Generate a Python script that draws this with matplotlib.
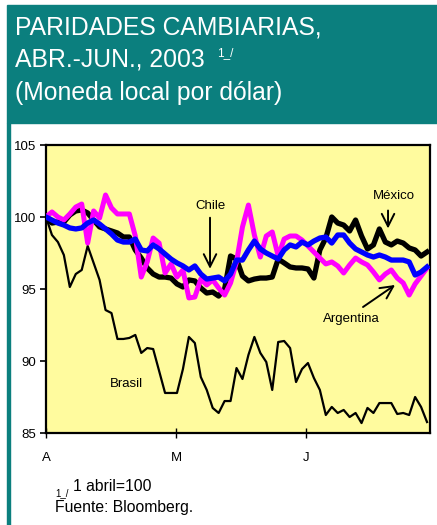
import matplotlib
matplotlib.use("Agg")
import matplotlib.pyplot as plt
from matplotlib.patches import Rectangle

plt.rcParams['font.family'] = ['Liberation Sans', 'DejaVu Sans']

# ---- data (index 1 abril = 100), trading days Apr-Jun 2003 ----
brasil = [100, 98.75, 98.26, 97.36, 95.14, 96.04, 96.32, 97.99, 96.81, 95.63,
          93.54, 93.33, 91.53, 91.53, 91.60, 91.81, 90.56, 90.90, 90.83, 89.31,
          87.78, 87.78, 87.78, 89.44, 91.67, 91.25, 88.89, 87.99, 86.74, 86.39,
          87.22, 87.22, 89.51, 88.75, 90.42, 91.67, 90.56, 89.93, 87.99, 91.32,
          91.39, 90.90, 88.54, 89.44, 89.86, 88.82, 87.99, 86.25, 86.81, 86.39,
          86.60, 86.11, 86.39, 85.69, 86.74, 86.39, 87.08, 87.08, 87.08, 86.32,
          86.39, 86.25, 87.50, 86.81, 85.76]
mexico = [100, 99.58, 99.65, 99.65, 100.14, 100.42, 100.49, 100.28, 99.79, 99.31,
          99.17, 99.03, 98.89, 98.61, 98.61, 97.71, 97.15, 96.46, 96.04, 95.83,
          95.83, 95.76, 95.35, 95.14, 95.63, 95.56, 95.07, 94.72, 94.79, 94.51,
          95.00, 97.29, 97.08, 95.90, 95.56, 95.69, 95.76, 95.76, 95.83, 97.08,
          96.81, 96.53, 96.46, 96.46, 96.39, 95.76, 97.71, 98.54, 100.0, 99.58,
          99.44, 99.03, 99.79, 98.68, 97.78, 98.06, 99.17, 98.26, 98.06, 98.33,
          98.19, 97.85, 97.71, 97.29, 97.57]
argentina = [100, 100.35, 100.0, 99.79, 100.21, 100.69, 100.90, 98.19, 100.42, 99.93,
             101.53, 100.63, 100.21, 100.21, 100.21, 98.68, 95.83, 96.88, 98.54, 98.19,
             96.11, 96.74, 95.83, 96.32, 94.38, 94.44, 95.69, 95.28, 95.63, 95.07,
             94.58, 95.42, 96.88, 99.31, 100.83, 98.75, 97.22, 98.68, 98.96, 97.29,
             98.47, 98.68, 98.68, 98.40, 97.99, 97.57, 97.15, 96.74, 96.88, 96.60,
             96.11, 96.67, 97.15, 96.88, 96.67, 96.18, 95.63, 96.04, 96.32, 95.76,
             95.42, 94.58, 95.35, 95.90, 96.46]
chile = [100, 99.79, 99.58, 99.44, 99.24, 99.17, 99.24, 99.58, 99.79, 99.51,
         99.17, 98.82, 98.40, 98.26, 98.26, 98.47, 97.71, 97.64, 98.06, 97.78,
         97.43, 97.08, 96.81, 96.60, 96.32, 96.60, 96.04, 95.69, 95.76, 95.83,
         95.56, 96.04, 97.01, 97.01, 97.71, 98.33, 97.78, 97.50, 97.29, 97.08,
         97.71, 98.06, 97.92, 98.26, 98.06, 98.33, 98.54, 98.61, 98.19, 98.75,
         98.75, 98.19, 97.78, 97.57, 97.36, 97.22, 97.36, 97.22, 97.01, 97.01,
         97.01, 96.88, 95.97, 96.18, 96.53]
month_labels = ["A", "M", "J"]
y_ticks = [85, 90, 95, 100, 105]

W, H = 437, 525
fig = plt.figure(figsize=(W / 100, H / 100), dpi=100)

def fx(x):
    return x / W

def fy(y):
    return 1 - y / H

teal = '#0B7F7E'
fig.patches.append(Rectangle((fx(7), fy(123)), fx(430), (123 - 5) / H,
                             transform=fig.transFigure, color=teal, zorder=0))
fig.patches.append(Rectangle((fx(7), 0), fx(3), fy(123),
                             transform=fig.transFigure, color=teal, zorder=0))

title_fs = 17.8
fig.text(fx(15), fy(35), "PARIDADES CAMBIARIAS,", color='white', fontsize=title_fs,
         va='baseline', ha='left')
fig.text(fx(15), fy(66), "ABR.-JUN., 2003", color='white', fontsize=title_fs,
         va='baseline', ha='left')
fig.text(fx(217), fy(56), "1_/", color='white', fontsize=8.5, va='baseline', ha='left')
fig.text(fx(15), fy(100), "(Moneda local por dólar)", color='white', fontsize=title_fs,
         va='baseline', ha='left')

ax = fig.add_axes([fx(46), fy(433), (430 - 46) / W, (433 - 145) / H])
ax.set_facecolor('#FFFB9E')

x = list(range(len(brasil)))
ax.plot(x, brasil, color='black', lw=1.6, zorder=2)
ax.plot(x, mexico, color='black', lw=3.8, zorder=3)
ax.plot(x, argentina, color='#FF00FF', lw=3.6, zorder=4)
ax.plot(x, chile, color='#0000FF', lw=3.8, zorder=5)

ax.set_xlim(0, 64.5)
ax.set_ylim(85, 105)
ax.set_yticks(y_ticks)
ax.set_yticklabels([str(v) for v in y_ticks], fontsize=9.5)
ax.set_xticks([0, 21.84, 43.67])
ax.set_xticklabels(month_labels, fontsize=9.5)
ax.tick_params(axis='y', direction='out', length=4, width=1.2, pad=3)
ax.tick_params(axis='x', direction='inout', length=7, width=1.0, pad=10)
for s in ax.spines.values():
    s.set_linewidth(1.6)
    s.set_color('black')

arrow = dict(arrowstyle='->,head_length=0.9,head_width=0.45', lw=1.4, color='black',
             shrinkA=0, shrinkB=0)
ax.text(27.55, 100.76, "Chile", fontsize=9.5, ha='center', va='center')
ax.annotate('', xy=(27.55, 96.4), xytext=(27.55, 99.95), arrowprops=arrow)
ax.text(58.46, 101.46, "México", fontsize=9.5, ha='center', va='center')
ax.annotate('', xy=(57.45, 99.2), xytext=(57.45, 100.45), arrowprops=arrow)
ax.text(51.24, 92.92, "Argentina", fontsize=9.5, ha='center', va='center')
ax.annotate('', xy=(58.63, 95.28), xytext=(53.25, 93.75), arrowprops=arrow)
ax.text(13.44, 88.4, "Brasil", fontsize=9.5, ha='center', va='center')

fig.text(fx(55), fy(496), "1_/", fontsize=7, va='baseline', ha='left')
fig.text(fx(73), fy(491), "1 abril=100", fontsize=11.3, va='baseline', ha='left')
fig.text(fx(55), fy(512), "Fuente: Bloomberg.", fontsize=11.3, va='baseline', ha='left')

fig.savefig("out.png", dpi=100)
